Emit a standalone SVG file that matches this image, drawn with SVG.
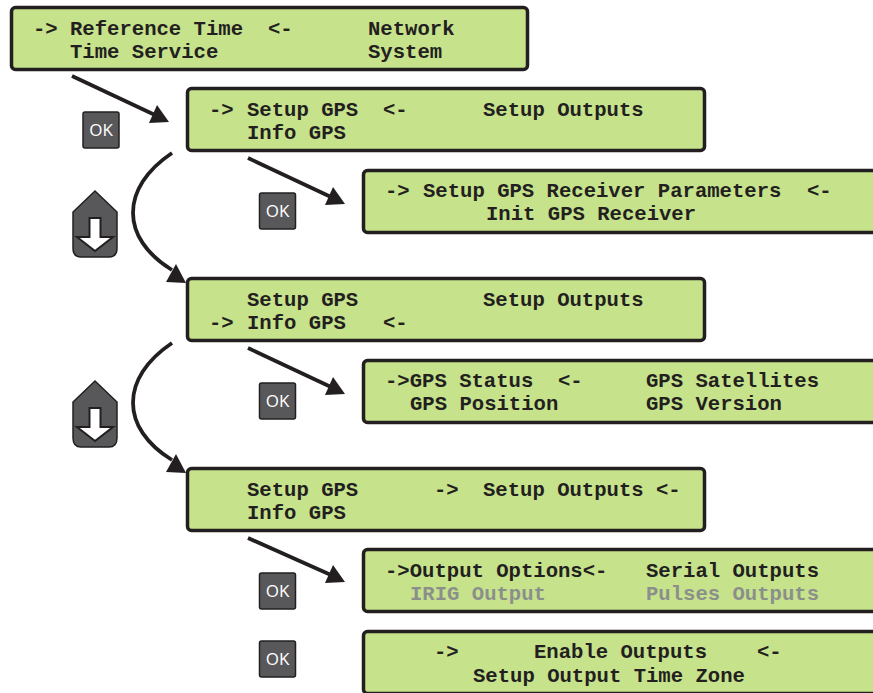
<svg xmlns="http://www.w3.org/2000/svg" width="873" height="693" viewBox="0 0 873 693">
<style>
.box{fill:#c6e28b;stroke:#231f20;stroke-width:3.5}
.t{font-family:"Liberation Mono",monospace;font-weight:bold;font-size:20.6px;fill:#231f20}
.g{fill:#8b8f8c}
.ok{fill:#58585a;stroke:#231f20;stroke-width:1.5}
.okt{font-family:"Open Sans","Liberation Sans",sans-serif;font-size:17px;fill:#fff;text-anchor:middle}
.ln{fill:none;stroke:#231f20;stroke-width:3.800}
.ah{fill:#231f20}
.dn{fill:#58585a;stroke:#231f20;stroke-width:1.5}
.dna{fill:#fff;stroke:#231f20;stroke-width:2}
</style>
<defs>
<g id="okb"><rect class="ok" x="-18" y="-18" width="36" height="36" rx="2"/><text class="okt" x="0" y="6">OK</text></g>
<g id="down"><path class="dn" d="M0 -33L22 -12V24Q22 33 14 33H-14Q-22 33 -22 24V-12Z"/><path class="dna" d="M-5.500 -6H5.500V13H18L0 27L-18 13H-5.500Z"/></g>
</defs>
<g id="connectors">
<path class="ln" d="M72 76L155 115"/><path class="ah" d="M169 122L149 123L157 105Z"/>
<path class="ln" d="M172 153C120 188 120 238 172 270"/><path class="ah" d="M186 283L166 282L176 264Z"/>
<path class="ln" d="M248 158L331 197"/><path class="ah" d="M345 204L325 205L333 187Z"/>
<path class="ln" d="M172 343C120 378 120 428 172 460"/><path class="ah" d="M186 473L166 472L176 454Z"/>
<path class="ln" d="M248 348L331 387"/><path class="ah" d="M345 394L325 395L333 377Z"/>
<path class="ln" d="M248 538L331 575"/><path class="ah" d="M345 582L325 583L333 565Z"/>
</g>
<g id="n1"><rect class="box" x="11.500" y="7.500" width="516" height="62" rx="4"/>
<text class="t" x="33" y="35">-&gt;</text><text class="t" x="70" y="35">Reference Time</text><text class="t" x="268" y="35">&lt;-</text><text class="t" x="368" y="35">Network</text><text class="t" x="70" y="58">Time Service</text><text class="t" x="368" y="58">System</text></g>
<g id="n2"><rect class="box" x="187.500" y="88.500" width="517" height="62" rx="4"/>
<text class="t" x="209" y="116">-&gt;</text><text class="t" x="247" y="116">Setup GPS</text><text class="t" x="383" y="116">&lt;-</text><text class="t" x="483" y="116">Setup Outputs</text><text class="t" x="247" y="139">Info GPS</text></g>
<g id="n3"><rect class="box" x="363.500" y="170.500" width="530" height="62" rx="4"/>
<text class="t" x="385" y="197">-&gt;</text><text class="t" x="423" y="197">Setup GPS Receiver Parameters</text><text class="t" x="807" y="197">&lt;-</text><text class="t" x="486" y="220">Init GPS Receiver</text></g>
<g id="n4"><rect class="box" x="187.500" y="278.500" width="517" height="62" rx="4"/>
<text class="t" x="247" y="306">Setup GPS</text><text class="t" x="483" y="306">Setup Outputs</text><text class="t" x="209" y="329">-&gt;</text><text class="t" x="247" y="329">Info GPS</text><text class="t" x="383" y="329">&lt;-</text></g>
<g id="n5"><rect class="box" x="363.500" y="360.500" width="530" height="62" rx="4"/>
<text class="t" x="385" y="387">-&gt;GPS Status</text><text class="t" x="558" y="387">&lt;-</text><text class="t" x="646" y="387">GPS Satellites</text><text class="t" x="410" y="410">GPS Position</text><text class="t" x="646" y="410">GPS Version</text></g>
<g id="n6"><rect class="box" x="187.500" y="468.500" width="517" height="62" rx="4"/>
<text class="t" x="247" y="496">Setup GPS</text><text class="t" x="434" y="496">-&gt;</text><text class="t" x="483" y="496">Setup Outputs</text><text class="t" x="656" y="496">&lt;-</text><text class="t" x="247" y="519">Info GPS</text></g>
<g id="n7"><rect class="box" x="363.500" y="549.500" width="530" height="62" rx="4"/>
<text class="t" x="385" y="577">-&gt;Output Options&lt;-</text><text class="t" x="646" y="577">Serial Outputs</text><text class="t g" x="410" y="600">IRIG Output</text><text class="t g" x="646" y="600">Pulses Outputs</text></g>
<g id="n8"><rect class="box" x="363.500" y="631.500" width="530" height="62" rx="4"/>
<text class="t" x="434" y="658">-&gt;</text><text class="t" x="534" y="658">Enable Outputs</text><text class="t" x="757" y="658">&lt;-</text><text class="t" x="473" y="682">Setup Output Time Zone</text></g>
<g id="ok1"><use href="#okb" x="101" y="130"/></g>
<g id="ok2"><use href="#okb" x="277.500" y="211"/></g>
<g id="ok3"><use href="#okb" x="277.500" y="401"/></g>
<g id="ok4"><use href="#okb" x="277.500" y="591"/></g>
<g id="ok5"><use href="#okb" x="277.500" y="659"/></g>
<g id="down1"><use href="#down" x="95" y="224"/></g>
<g id="down2"><use href="#down" x="95" y="414"/></g>
</svg>
